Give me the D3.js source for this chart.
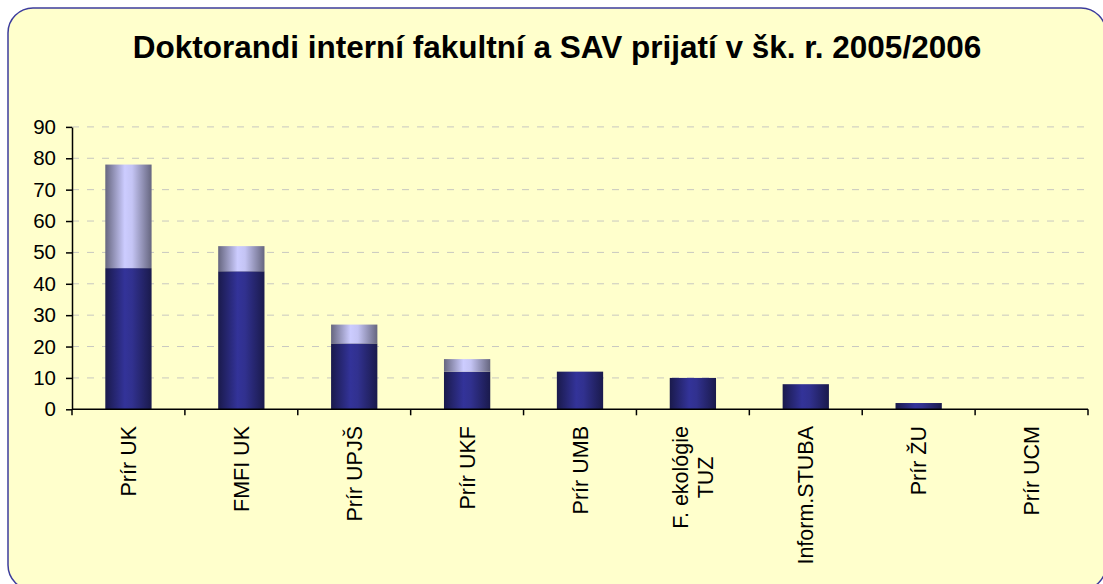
<!DOCTYPE html>
<html>
<head>
<meta charset="utf-8">
<script src="https://cdn.jsdelivr.net/npm/d3@7"></script>
<style>
  body { margin: 0; background: #fff; }
  svg { display: block; font-family: "Liberation Sans", Arial, sans-serif; }
</style>
</head>
<body>
<div class="chart_area"></div>
<script>
// data
var categories = ["Prír UK", "FMFI UK", "Prír UPJŠ", "Prír UKF", "Prír UMB",
                  "F. ekológie\nTUZ", "Inform.STUBA", "Prír ŽU", "Prír UCM"];
var fakultni = [45, 44, 21, 12, 12, 10, 8, 2, 0];
var sav = [33, 8, 6, 4, 0, 0, 0, 0, 0];
var yTicks = [0, 10, 20, 30, 40, 50, 60, 70, 80, 90];
var title = "Doktorandi interní fakultní a SAV prijatí v šk. r. 2005/2006";

var W = 1103, H = 584;
var plot = { left: 72, right: 1088, top: 126.9, bottom: 409.3 };

var svg = d3.select(".chart_area")
    .append("svg")
    .attr("width", W)
    .attr("height", H);

var defs = svg.append("defs");

var gDark = defs.append("linearGradient").attr("id", "gradDark")
    .attr("x1", "0%").attr("x2", "100%").attr("y1", "0%").attr("y2", "0%");
gDark.append("stop").attr("offset", "0%").attr("stop-color", "#1a1a4c");
gDark.append("stop").attr("offset", "42%").attr("stop-color", "#333399");
gDark.append("stop").attr("offset", "58%").attr("stop-color", "#31318f");
gDark.append("stop").attr("offset", "100%").attr("stop-color", "#1a1a4c");

var gLight = defs.append("linearGradient").attr("id", "gradLight")
    .attr("x1", "0%").attr("x2", "100%").attr("y1", "0%").attr("y2", "0%");
gLight.append("stop").attr("offset", "0%").attr("stop-color", "#66667f");
gLight.append("stop").attr("offset", "42%").attr("stop-color", "#ccccff");
gLight.append("stop").attr("offset", "58%").attr("stop-color", "#c4c4f4");
gLight.append("stop").attr("offset", "100%").attr("stop-color", "#66667f");

// frame
svg.append("rect")
    .attr("x", 8).attr("y", 8)
    .attr("width", 1098).attr("height", 582)
    .attr("rx", 25).attr("ry", 25)
    .attr("fill", "#ffffcc")
    .attr("stroke", "#3c3c9c")
    .attr("stroke-width", 1.5);

svg.append("text")
    .attr("x", 557)
    .attr("y", 58)
    .attr("text-anchor", "middle")
    .attr("font-weight", "bold")
    .attr("font-size", 31.5)
    .attr("fill", "#000")
    .text(title);

var x = d3.scaleBand()
    .domain(categories)
    .range([plot.left, plot.right])
    .paddingInner(0.59)
    .paddingOuter(0.295);

var y = d3.scaleLinear()
    .domain([0, 90])
    .range([plot.bottom, plot.top]);

// gridlines
svg.append("g")
    .selectAll("line")
    .data(yTicks.filter(function(d){ return d > 0; }))
    .enter()
    .append("line")
    .attr("x1", plot.left).attr("x2", plot.right)
    .attr("y1", function(d){ return y(d); })
    .attr("y2", function(d){ return y(d); })
    .attr("stroke", "#c8c8c0")
    .attr("stroke-width", 1)
    .attr("stroke-dasharray", "7,8");

// stacked bars
var stacked = categories.map(function(c, i){
    return { cat: c, a: fakultni[i], b: sav[i] };
});

var bars = svg.append("g");
bars.selectAll(".dark")
    .data(stacked)
    .enter()
    .append("rect")
    .attr("x", function(d){ return x(d.cat); })
    .attr("width", x.bandwidth())
    .attr("y", function(d){ return y(d.a); })
    .attr("height", function(d){ return y(0) - y(d.a); })
    .attr("fill", "url(#gradDark)");

bars.selectAll(".light")
    .data(stacked.filter(function(d){ return d.b > 0; }))
    .enter()
    .append("rect")
    .attr("x", function(d){ return x(d.cat); })
    .attr("width", x.bandwidth())
    .attr("y", function(d){ return y(d.a + d.b); })
    .attr("height", function(d){ return y(d.a) - y(d.a + d.b); })
    .attr("fill", "url(#gradLight)");

// y axis
var yAxis = svg.append("g")
    .attr("transform", "translate(" + plot.left + ",0)")
    .call(d3.axisLeft(y).tickValues(yTicks).tickSize(6).tickPadding(10).tickSizeOuter(0));
yAxis.select(".domain").attr("stroke", "#000").attr("stroke-width", 1.5);
yAxis.selectAll(".tick line").attr("stroke", "#000").attr("stroke-width", 1.5);
yAxis.selectAll(".tick text")
    .attr("font-size", 20.5)
    .attr("font-family", "Liberation Sans, Arial, sans-serif")
    .attr("fill", "#000");

// x axis line and boundary ticks
var xg = svg.append("g");
xg.append("line")
    .attr("x1", plot.left).attr("x2", plot.right)
    .attr("y1", plot.bottom).attr("y2", plot.bottom)
    .attr("stroke", "#000").attr("stroke-width", 1.5);
var bounds = categories.map(function(c){ return x(c) - x.step() * 0.295; });
bounds.push(plot.right);
xg.selectAll(".tk")
    .data(bounds)
    .enter()
    .append("line")
    .attr("x1", function(d){ return d; })
    .attr("x2", function(d){ return d; })
    .attr("y1", plot.bottom).attr("y2", plot.bottom + 6)
    .attr("stroke", "#000").attr("stroke-width", 1.5);

// rotated category labels
var labelTop = 426;
categories.forEach(function(c){
    var lines = c.split("\n");
    var cx = x(c) + x.bandwidth() / 2;
    var t = xg.append("text")
        .attr("font-size", 21.5)
        .attr("fill", "#000")
        .attr("text-anchor", "middle");
    lines.forEach(function(l, j){
        t.append("tspan").attr("x", 0)
            .attr("dy", j === 0 ? ((0.35 - (lines.length - 1) * 0.6) + "em") : "1.2em")
            .text(l);
    });
    var maxLen = d3.max(t.selectAll("tspan").nodes(), function(n){ return n.getComputedTextLength(); });
    t.attr("transform", "translate(" + cx + "," + (labelTop + maxLen / 2) + ") rotate(-90)");
});
</script>
</body>
</html>
